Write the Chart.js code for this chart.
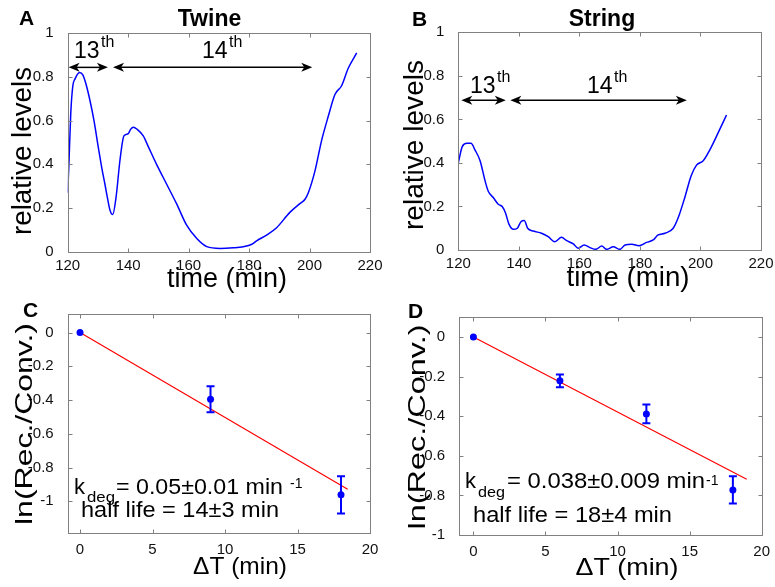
<!DOCTYPE html>
<html>
<head>
<meta charset="utf-8">
<script src="https://cdn.jsdelivr.net/npm/chart.js@4.4.1/dist/chart.umd.min.js"></script>
<style>
  html, body { margin: 0; padding: 0; background: #fff; }
  #wrap { position: relative; width: 775px; height: 587px; overflow: hidden; }
  #wrap canvas { position: absolute; left: 0; top: 0; }
</style>
</head>
<body>
<div id="wrap">
  <canvas id="chartA" width="775" height="587"></canvas>
  <canvas id="chartB" width="775" height="587"></canvas>
  <canvas id="chartC" width="775" height="587"></canvas>
  <canvas id="chartD" width="775" height="587"></canvas>
</div>
<script>
// --- Data ---
// A: Twine
const twineTime = [120, 120.4, 121, 121.7, 122.4, 123.9, 125, 126, 127.4, 128.7, 130.1, 131.2, 132.3, 133.1, 134, 134.9,
  136, 137.3, 138.6, 140, 140.8, 141.7, 143, 145, 146.7, 149.4, 152.7, 156, 159.4, 162.7, 166, 170.4, 174.8, 178.1,
  180.9, 182.5, 185.8, 189.1, 193.5, 196.8, 198.5, 199.6, 201.8, 204, 206.2, 208.4, 210.6, 212.8, 215.6];
const twineLevel = [0.27, 0.40, 0.63, 0.76, 0.79, 0.82, 0.81, 0.77, 0.69, 0.60, 0.48, 0.39, 0.31, 0.25, 0.19, 0.17,
  0.25, 0.42, 0.53, 0.54, 0.56, 0.57, 0.56, 0.53, 0.48, 0.40, 0.31, 0.22, 0.12, 0.06, 0.023, 0.015, 0.018, 0.023,
  0.034, 0.05, 0.076, 0.11, 0.18, 0.22, 0.24, 0.27, 0.37, 0.51, 0.62, 0.72, 0.76, 0.84, 0.91];

// B: String
const stringTime = [120, 121.3, 122.8, 124.2, 125.5, 127.2, 128.8, 129.9, 131.6, 133.2, 134.5, 135.6, 136.7, 138.2,
  139.5, 140.7, 141.8, 142.9, 144.8, 147.5, 149.7, 151.9, 154.1, 155.8, 158, 159.6, 161.6, 163.5, 165.4, 167.4, 169,
  171.2, 173.4, 175.1, 177.3, 179.7, 182.2, 184.4, 186, 188.3, 191, 192.7, 194.9, 196.9, 198.7, 200.9, 203.1, 205.9, 208.6];
const stringLevel = [0.40, 0.475, 0.49, 0.49, 0.46, 0.41, 0.32, 0.27, 0.24, 0.21, 0.20, 0.17, 0.12, 0.095,
  0.10, 0.13, 0.135, 0.10, 0.087, 0.077, 0.061, 0.038, 0.058, 0.043, 0.028, 0.008, 0.023, 0.011, 0.003, 0.018, 0.003,
  0.015, 0.003, 0.023, 0.026, 0.02, 0.035, 0.046, 0.069, 0.077, 0.10, 0.15, 0.245, 0.34, 0.39, 0.41, 0.46, 0.54, 0.62];

// cycle intervals (min) marked with arrows
const twineCycle13 = [120.3, 133.3];
const twineCycle14 = [135, 200.9];
const twineArrowLevel = 0.844;
const stringCycle13 = [121, 135.7];
const stringCycle14 = [137.2, 195.5];
const stringArrowLevel = 0.688;

// C: Twine decay
const twineDT = [0, 9, 18];
const twineLn = [0, -0.395, -0.962];
const twineErr = [0, 0.077, 0.11];
const twineFitDT = [0, 18.46];
const twineFitLn = [0, -0.929];

// D: String decay
const stringDT = [0, 6, 12, 18];
const stringLn = [0, -0.221, -0.388, -0.772];
const stringErr = [0, 0.032, 0.047, 0.069];
const stringFitDT = [0, 18.96];
const stringFitLn = [0, -0.718];

// tick labels
const timeTicks = [120, 140, 160, 180, 200, 220];
const levelTicks = [0, 0.2, 0.4, 0.6, 0.8, 1];
const dtTicks = [0, 5, 10, 15, 20];
const lnTicks = [-1, -0.8, -0.6, -0.4, -0.2, 0];

const FONT = '"Liberation Sans", Arial, Helvetica, sans-serif';
const BLUE = '#0000ff';
const RED = '#ff0000';

const pts = (xs, ys) => xs.map((x, i) => ({ x, y: ys[i] }));

// --- frame: MATLAB-style box with inward ticks on all sides ---
const matlabFrame = {
  id: 'matlabFrame',
  afterDatasetsDraw(chart) {
    const { ctx, chartArea: a, scales: { x, y } } = chart;
    const L = Math.round(a.left) + 0.5, R = Math.round(a.right) + 0.5;
    const T = Math.round(a.top) + 0.5, B = Math.round(a.bottom) + 0.5;
    ctx.save();
    ctx.strokeStyle = '#808080';
    ctx.lineWidth = 1;
    ctx.strokeRect(L, T, R - L, B - T);
    ctx.beginPath();
    x.ticks.forEach(t => {
      const px = Math.round(x.getPixelForValue(t.value)) + 0.5;
      ctx.moveTo(px, B); ctx.lineTo(px, B - 4);
      ctx.moveTo(px, T); ctx.lineTo(px, T + 4);
    });
    y.ticks.forEach(t => {
      const py = Math.round(y.getPixelForValue(t.value)) + 0.5;
      ctx.moveTo(L, py); ctx.lineTo(L + 4, py);
      ctx.moveTo(R, py); ctx.lineTo(R - 4, py);
    });
    ctx.stroke();
    ctx.restore();
  }
};

// --- error bars from dataset.errors ---
const errorBars = {
  id: 'errorBars',
  afterDatasetsDraw(chart) {
    const { ctx, scales: { x, y } } = chart;
    ctx.save();
    chart.data.datasets.forEach(ds => {
      if (!ds.errors) return;
      ctx.strokeStyle = ds.borderColor;
      ctx.lineWidth = 2;
      ds.data.forEach((p, i) => {
        const e = ds.errors[i];
        if (!e) return;
        const px = x.getPixelForValue(p.x);
        const y1 = y.getPixelForValue(p.y + e), y2 = y.getPixelForValue(p.y - e);
        ctx.beginPath();
        ctx.moveTo(px, y1); ctx.lineTo(px, y2);
        ctx.moveTo(px - 4, y1); ctx.lineTo(px + 4, y1);
        ctx.moveTo(px - 4, y2); ctx.lineTo(px + 4, y2);
        ctx.stroke();
      });
    });
    ctx.restore();
  }
};

// --- double-headed arrows in data units ---
const cycleArrows = {
  id: 'cycleArrows',
  afterDatasetsDraw(chart, args, opts) {
    if (!opts.spans) return;
    const { ctx, scales: { x, y } } = chart;
    const py = y.getPixelForValue(opts.level);
    ctx.save();
    ctx.strokeStyle = '#000';
    ctx.fillStyle = '#000';
    ctx.lineWidth = 1.5;
    opts.spans.forEach(([a, b]) => {
      const x1 = x.getPixelForValue(a), x2 = x.getPixelForValue(b);
      ctx.beginPath();
      ctx.moveTo(x1 + 6, py); ctx.lineTo(x2 - 6, py);
      ctx.stroke();
      [[x1, 1], [x2, -1]].forEach(([tx, d]) => {
        ctx.beginPath();
        ctx.moveTo(tx, py);
        ctx.lineTo(tx + d * 11, py - 4.5);
        ctx.lineTo(tx + d * 8, py);
        ctx.lineTo(tx + d * 11, py + 4.5);
        ctx.closePath();
        ctx.fill();
      });
    });
    ctx.restore();
  }
};

// --- free text (titles, axis labels, notes) ---
function drawLabel(ctx, it) {
  ctx.save();
  ctx.font = `${it.bold ? 'bold ' : ''}${it.size}px ${FONT}`;
  ctx.fillStyle = '#000';
  ctx.textBaseline = it.baseline || 'alphabetic';
  ctx.textAlign = 'left';
  ctx.translate(it.x, it.y);
  if (it.rotate) ctx.rotate(it.rotate);
  const w = ctx.measureText(it.text).width;
  if (it.width) ctx.scale(it.width / w, 1);
  const dx = it.align === 'center' ? -w / 2 : 0;
  ctx.fillText(it.text, dx, 0);
  ctx.restore();
}
const panelText = {
  id: 'panelText',
  afterDraw(chart, args, opts) {
    (opts.items || []).forEach(it => drawLabel(chart.ctx, it));
  }
};

const fmt = v => String(Math.round(v * 100) / 100);

function makePanel(id, area, xr, yr, xTicks, yTicks, datasets, extra) {
  const YW = 62, XH = 24;
  return new Chart(document.getElementById(id), {
    type: 'scatter',
    data: { datasets },
    plugins: [matlabFrame, errorBars, cycleArrows, panelText],
    options: {
      responsive: false,
      animation: false,
      devicePixelRatio: 1,
      layout: {
        autoPadding: false,
        padding: { left: area.l - YW, top: area.t, right: 775 - area.r, bottom: 587 - area.b - XH }
      },
      scales: {
        x: {
          type: 'linear', min: xr[0], max: xr[1],
          grid: { display: false }, border: { display: false },
          afterBuildTicks: s => { s.ticks = xTicks.map(v => ({ value: v })); },
          afterFit: s => { s.height = XH; },
          ticks: { padding: extra.xPad, autoSkip: false, maxRotation: 0, color: '#111',
                   font: { family: FONT, size: 15 }, callback: fmt }
        },
        y: {
          type: 'linear', min: yr[0], max: yr[1],
          grid: { display: false }, border: { display: false },
          afterBuildTicks: s => { s.ticks = yTicks.map(v => ({ value: v })); },
          afterFit: s => { s.width = YW; },
          ticks: { padding: 6, autoSkip: false, color: '#111',
                   font: { family: FONT, size: 15 }, callback: fmt }
        }
      },
      plugins: {
        legend: { display: false },
        tooltip: { enabled: false },
        cycleArrows: extra.arrows || {},
        panelText: { items: extra.text }
      }
    }
  });
}

const curve = (data) => ({
  data, showLine: true, borderColor: BLUE, borderWidth: 1.5, pointRadius: 0,
  cubicInterpolationMode: 'monotone', fill: false
});
const markers = (data, errors) => ({
  data, errors, borderColor: BLUE, backgroundColor: BLUE, pointRadius: 3.5, pointBorderWidth: 0, showLine: false
});
const fitLine = (data) => ({
  data, showLine: true, borderColor: RED, borderWidth: 1.2, pointRadius: 0, fill: false
});

const ROT = -Math.PI / 2;

// A
makePanel('chartA', { l: 67.7, t: 33.3, r: 370, b: 251.7 }, [120, 220], [0, 1], timeTicks, levelTicks,
  [curve(pts(twineTime, twineLevel))],
  {
    xPad: -3,
    arrows: { spans: [twineCycle13, twineCycle14], level: twineArrowLevel },
    text: [
      { text: 'A', x: 19, y: 25, size: 21, bold: true },
      { text: 'Twine', x: 209.5, y: 26, size: 23, bold: true, align: 'center' },
      { text: '13', x: 74, y: 58, size: 23 },
      { text: 'th', x: 101, y: 47, size: 16 },
      { text: '14', x: 202, y: 58, size: 23 },
      { text: 'th', x: 229, y: 47, size: 16 },
      { text: 'relative levels', x: 24, y: 151, size: 27, rotate: ROT, align: 'center', baseline: 'middle', width: 168 },
      { text: 'time (min)', x: 227, y: 280, size: 27, align: 'center', baseline: 'middle', width: 120 }
    ]
  });

// B
makePanel('chartB', { l: 458.3, t: 32.3, r: 761, b: 250 }, [120, 220], [0, 1], timeTicks, levelTicks,
  [curve(pts(stringTime, stringLevel))],
  {
    xPad: -3,
    arrows: { spans: [stringCycle13, stringCycle14], level: stringArrowLevel },
    text: [
      { text: 'B', x: 412, y: 26, size: 21, bold: true },
      { text: 'String', x: 602, y: 26, size: 23, bold: true, align: 'center' },
      { text: '13', x: 470, y: 93, size: 23 },
      { text: 'th', x: 497, y: 82, size: 16 },
      { text: '14', x: 587, y: 93, size: 23 },
      { text: 'th', x: 614, y: 82, size: 16 },
      { text: 'relative levels', x: 416, y: 145, size: 27, rotate: ROT, align: 'center', baseline: 'middle', width: 170 },
      { text: 'time (min)', x: 628, y: 279, size: 27, align: 'center', baseline: 'middle', width: 123 }
    ]
  });

// C
makePanel('chartC', { l: 67.7, t: 314, r: 370, b: 533.3 }, [-0.85, 20], [-1.19, 0.11], dtTicks, lnTicks,
  [markers(pts(twineDT, twineLn), twineErr), fitLine(pts(twineFitDT, twineFitLn))],
  {
    xPad: 0,
    text: [
      { text: 'C', x: 23, y: 317, size: 21, bold: true },
      { text: 'k', x: 74, y: 494, size: 22 },
      { text: 'deg', x: 87, y: 502, size: 15, width: 28 },
      { text: '= 0.05±0.01 min', x: 116, y: 494, size: 22, width: 167 },
      { text: '-1', x: 290, y: 488, size: 14 },
      { text: 'half life = 14±3 min', x: 81, y: 517, size: 22, width: 198 },
      { text: 'ln(Rec./Conv.)', x: 25, y: 424, size: 24, rotate: ROT, align: 'center', baseline: 'middle', width: 202 },
      { text: 'ΔT (min)', x: 240, y: 567, size: 24, align: 'center', baseline: 'middle', width: 94 }
    ]
  });

// D
makePanel('chartD', { l: 459, t: 317.3, r: 761.7, b: 535 }, [-1, 20], [-1, 0.1], dtTicks, lnTicks,
  [markers(pts(stringDT, stringLn), stringErr), fitLine(pts(stringFitDT, stringFitLn))],
  {
    xPad: 0,
    text: [
      { text: 'D', x: 408, y: 318, size: 21, bold: true },
      { text: 'k', x: 465, y: 488, size: 22 },
      { text: 'deg', x: 478, y: 497, size: 15, width: 27 },
      { text: '= 0.038±0.009 min', x: 507, y: 488, size: 22, width: 198 },
      { text: '-1', x: 706, y: 485, size: 14 },
      { text: 'half life = 18±4 min', x: 473, y: 522, size: 22, width: 199 },
      { text: 'ln(Rec./Conv.)', x: 418, y: 427, size: 24, rotate: ROT, align: 'center', baseline: 'middle', width: 205 },
      { text: 'ΔT (min)', x: 627, y: 568, size: 24, align: 'center', baseline: 'middle', width: 103 }
    ]
  });
</script>
</body>
</html>
